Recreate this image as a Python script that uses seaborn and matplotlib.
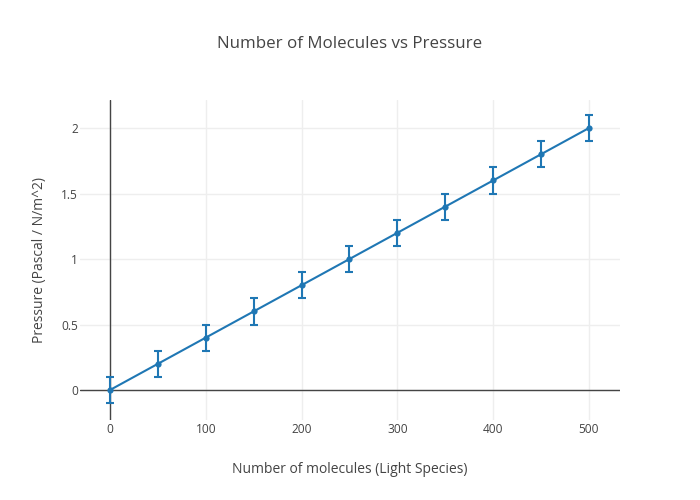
import matplotlib
matplotlib.use("Agg")
import matplotlib.pyplot as plt
import seaborn as sns
import pandas as pd

molecules = [0, 50, 100, 150, 200, 250, 300, 350, 400, 450, 500]
pressure = [0, 0.2, 0.4, 0.6, 0.8, 1.0, 1.2, 1.4, 1.6, 1.8, 2.0]
errors = [0.1, 0.1, 0.1, 0.1, 0.1, 0.1, 0.1, 0.1, 0.1, 0.1, 0.1]
x_ticks = [0, 100, 200, 300, 400, 500]
y_ticks = [0, 0.5, 1, 1.5, 2]
y_tick_labels = ["0", "0.5", "1", "1.5", "2"]

sns.set_style("white")
plt.rcParams['font.family'] = ['Open Sans', 'DejaVu Sans']

df = pd.DataFrame({"x": molecules, "y": pressure, "e": errors})
color = "#1f77b4"
text_color = "#444444"

fig = plt.figure(figsize=(7, 5), dpi=100)
ax = fig.add_axes([80/700, 80/500, 540/700, 320/500])

ax.errorbar(df["x"], df["y"], yerr=df["e"], fmt="none", ecolor=color,
            elinewidth=1.5, capsize=3, capthick=1.5, zorder=3)
sns.lineplot(data=df, x="x", y="y", ax=ax, color=color, linewidth=1.5,
             marker="o", markersize=4.5, markeredgewidth=0, zorder=4)

ax.set_xlim(-31.3, 532.4)
ax.set_ylim(-0.229, 2.214)
ax.set_xticks(x_ticks)
ax.set_yticks(y_ticks)
ax.set_yticklabels(y_tick_labels)
ax.grid(True, color="#eeeeee", linewidth=1)
ax.set_axisbelow(True)
for s in ax.spines.values():
    s.set_visible(False)
ax.axhline(0, color="#444444", linewidth=1, zorder=2)
ax.axvline(0, color="#444444", linewidth=1, zorder=2)
ax.tick_params(axis="x", length=0, labelsize=8.6, colors=text_color, pad=2.5)
ax.tick_params(axis="y", length=0, labelsize=8.6, colors=text_color, pad=1.5)

ax.set_xlabel("Number of molecules (Light Species)", fontsize=10, color=text_color, labelpad=18.5)
ax.set_ylabel("Pressure (Pascal / N/m^2)", fontsize=10, color=text_color, labelpad=10)
fig.text(350/700, 1 - 44/500, "Number of Molecules vs Pressure", ha="center", va="center",
         fontsize=12.2, color=text_color)

fig.savefig("out.png", dpi=100)
